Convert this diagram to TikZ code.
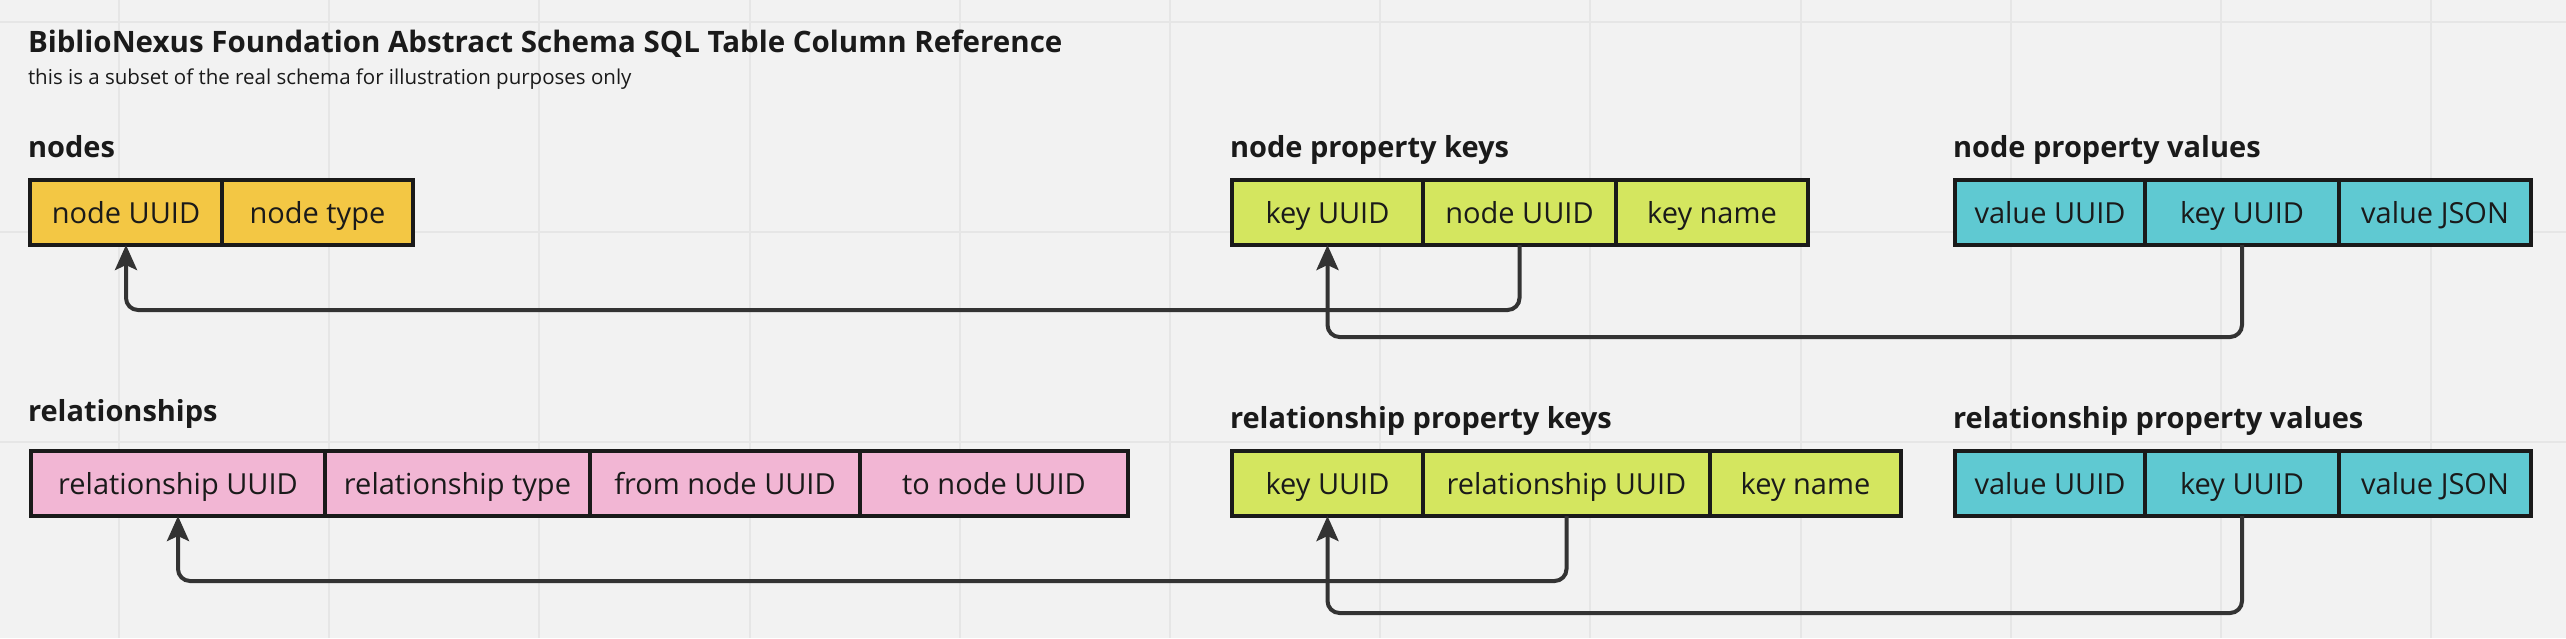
\documentclass[tikz,border=0pt]{standalone}
\usepackage{fontspec}
\setmainfont{Open Sans}
\usepackage{xcolor}
\usetikzlibrary{positioning,arrows.meta}

\definecolor{canvas}{HTML}{F2F2F2}
\definecolor{gridc}{HTML}{E6E6E6}
\definecolor{inkc}{HTML}{1A1A1A}
\definecolor{linkc}{HTML}{333333}
\definecolor{yellowc}{HTML}{F3C744}
\definecolor{greenc}{HTML}{D4E65F}
\definecolor{cyanc}{HTML}{5FC9D2}
\definecolor{pinkc}{HTML}{F2B6D4}

\begin{document}
\begin{tikzpicture}[x=1pt,y=-1pt]
      \tikzstyle{every node}+=[inner sep=0pt, outer sep=0pt]
      \tikzstyle{cell}=[draw=inkc, line width=4pt, minimum height=65pt, text=inkc,
                        text height=22pt, text depth=0pt,
                        font=\fontsize{29}{33}\selectfont]
      \tikzstyle{tablename}=[anchor=base west, text=inkc, font=\fontsize{29}{33}\selectfont\bfseries]
      \tikzstyle{fk}=[draw=linkc, line width=4pt, rounded corners=12pt,
                      -{Stealth[length=25pt,width=22pt,inset=5pt]}]
      \useasboundingbox (0,0) rectangle (2566,638);
      \fill [canvas] (0,0) rectangle (2566,638);
      \foreach \i in {0,...,11}
        \draw [gridc, line width=2pt] ({119+210.2*\i},0) -- ++(0,638);
      \foreach \j in {22,232,442}
        \draw [gridc, line width=2pt] (0,\j) -- (2566,\j);
      % heading
      \node (title) [anchor=base west, text=inkc, font=\fontsize{29.5}{34}\selectfont\bfseries]
        at (28,52) {BiblioNexus Foundation Abstract Schema SQL Table Column Reference};
      \node (subtitle) [anchor=base west, text=inkc, font=\fontsize{20.5}{24}\selectfont]
        at (28,84) {this is a subset of the real schema for illustration purposes only};
      % nodes
      \node (nLabel) [tablename] at (28,157) {nodes};
      \node (nUuid) [cell, fill=yellowc, minimum width=192pt, anchor=north west] at (30,180) {node UUID};
      \node (nType) [cell, fill=yellowc, minimum width=191pt, right=0pt of nUuid] {node type};
      % node property keys
      \node (npkLabel) [tablename] at (1230,157) {node property keys};
      \node (npkKey) [cell, fill=greenc, minimum width=191pt, anchor=north west] at (1232,180) {key UUID};
      \node (npkNode) [cell, fill=greenc, minimum width=193pt, right=0pt of npkKey] {node UUID};
      \node (npkName) [cell, fill=greenc, minimum width=192pt, right=0pt of npkNode] {key name};
      % node property values
      \node (npvLabel) [tablename] at (1953,157) {node property values};
      \node (npvValue) [cell, fill=cyanc, minimum width=190pt, anchor=north west] at (1955,180) {value UUID};
      \node (npvKey) [cell, fill=cyanc, minimum width=194pt, right=0pt of npvValue] {key UUID};
      \node (npvJson) [cell, fill=cyanc, minimum width=192pt, right=0pt of npvKey] {value JSON};
      % relationships
      \node (rLabel) [tablename] at (28,421) {relationships};
      \node (rUuid) [cell, fill=pinkc, minimum width=294pt, anchor=north west] at (31,451) {relationship UUID};
      \node (rType) [cell, fill=pinkc, minimum width=265pt, right=0pt of rUuid] {relationship type};
      \node (rFrom) [cell, fill=pinkc, minimum width=270pt, right=0pt of rType] {from node UUID};
      \node (rTo) [cell, fill=pinkc, minimum width=268pt, right=0pt of rFrom] {to node UUID};
      % relationship property keys
      \node (rpkLabel) [tablename] at (1230,428) {relationship property keys};
      \node (rpkKey) [cell, fill=greenc, minimum width=191pt, anchor=north west] at (1232,451) {key UUID};
      \node (rpkRel) [cell, fill=greenc, minimum width=287pt, right=0pt of rpkKey] {relationship UUID};
      \node (rpkName) [cell, fill=greenc, minimum width=191pt, right=0pt of rpkRel] {key name};
      % relationship property values
      \node (rpvLabel) [tablename] at (1953,428) {relationship property values};
      \node (rpvValue) [cell, fill=cyanc, minimum width=190pt, anchor=north west] at (1955,451) {value UUID};
      \node (rpvKey) [cell, fill=cyanc, minimum width=194pt, right=0pt of rpvValue] {key UUID};
      \node (rpvJson) [cell, fill=cyanc, minimum width=192pt, right=0pt of rpvKey] {value JSON};
      % foreign keys
      \draw [fk] (npkNode.south) -- ++(0,65) -| (nUuid.south);
      \draw [fk] (npvKey.south) -- ++(0,92) -| (npkKey.south);
      \draw [fk] (rpkRel.south) -- ++(0,65) -| (rUuid.south);
      \draw [fk] (rpvKey.south) -- ++(0,97) -| (rpkKey.south);
    \end{tikzpicture}
\end{document}
